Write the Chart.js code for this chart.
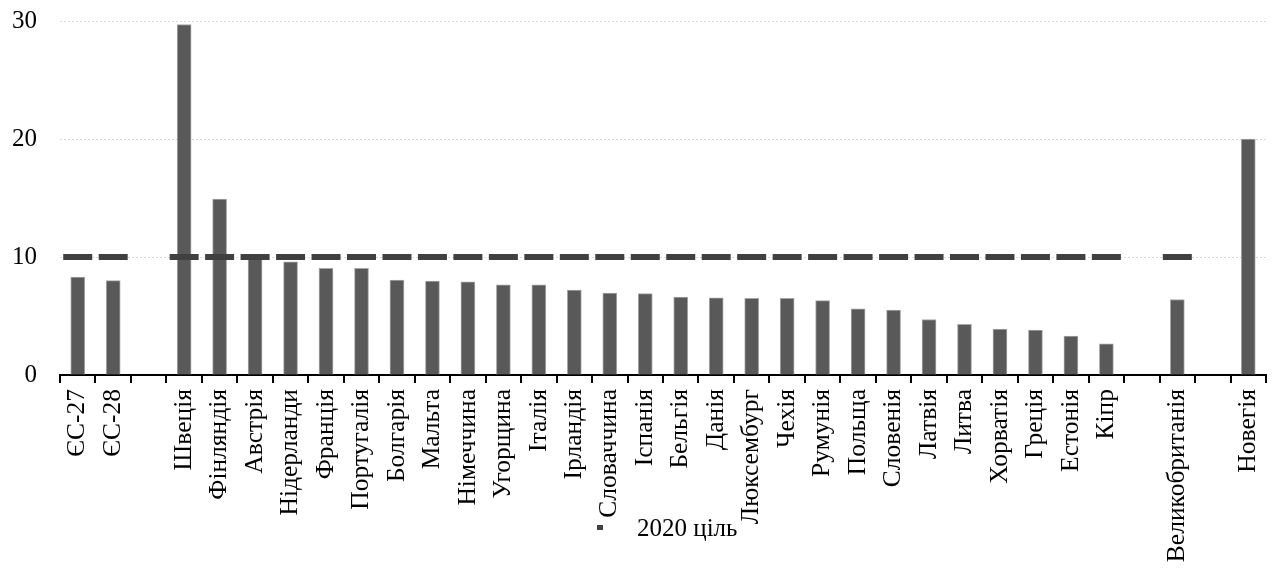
<!DOCTYPE html>
<html>
<head>
<meta charset="utf-8">
<script src="https://cdn.jsdelivr.net/npm/chart.js@4.4.1/dist/chart.umd.min.js"></script>
<style>
  html, body { margin: 0; padding: 0; background: #fff; }
  #wrap { position: relative; width: 1278px; height: 569px; }
  #legend {
    position: absolute; left: 597px; top: 514px;
    font-family: 'Liberation Serif', serif; font-size: 25px; color: #000;
    white-space: nowrap; line-height: 28px;
  }
  #legend .mark {
    display: inline-block; width: 6px; height: 5px; background: #404040;
    vertical-align: middle; margin-right: 34px; position: relative; top: -3px;
  }
</style>
</head>
<body>
<div id="wrap">
  <canvas id="myViz" width="1278" height="569"></canvas>
  <div id="legend"><span class="mark"></span>2020 ціль</div>
</div>
<script>
// Категорії (порожні рядки — проміжки між групами)
const categories = ['ЄС-27', 'ЄС-28', '', 'Швеція', 'Фінляндія', 'Австрія', 'Нідерланди', 'Франція',
  'Португалія', 'Болгарія', 'Мальта', 'Німеччина', 'Угорщина', 'Італія', 'Ірландія', 'Словаччина',
  'Іспанія', 'Бельгія', 'Данія', 'Люксембург', 'Чехія', 'Румунія', 'Польща', 'Словенія', 'Латвія',
  'Литва', 'Хорватія', 'Греція', 'Естонія', 'Кіпр', '', 'Великобританія', '', 'Новегія'];

// Фактичні значення
const values = [8.3, 8.0, null, 29.7, 14.9, 10.0, 9.6, 9.05, 9.05, 8.05, 7.95, 7.9, 7.65, 7.65,
  7.2, 6.95, 6.9, 6.6, 6.55, 6.5, 6.5, 6.3, 5.6, 5.5, 4.7, 4.3, 3.9, 3.8, 3.3, 2.65, null, 6.4, null, 20.0];

// Ціль 2020
const target2020 = [10, 10, null, 10, 10, 10, 10, 10, 10, 10, 10, 10, 10, 10, 10, 10, 10, 10, 10, 10,
  10, 10, 10, 10, 10, 10, 10, 10, 10, 10, null, 10, null, null];

const yTicks = [0, 10, 20, 30];

const FONT = "'Liberation Serif', serif";

const ctx = document.getElementById('myViz').getContext('2d');

new Chart(ctx, {
  type: 'bar',
  data: {
    labels: categories,
    datasets: [
      {
        type: 'line',
        label: '2020 ціль',
        data: target2020,
        showLine: false,
        pointStyle: 'line',
        pointRadius: 14.5,
        pointHoverRadius: 14.5,
        pointBorderWidth: 6,
        pointBorderColor: '#404040',
        pointBackgroundColor: '#404040',
      },
      {
        label: '',
        data: values,
        backgroundColor: '#595959',
        borderColor: '#a6a6a6',
        borderWidth: 1,
        barThickness: 14,
      }
    ]
  },
  options: {
    responsive: false,
    animation: false,
    layout: { autoPadding: false, padding: { top: 21, right: 12, left: 0, bottom: 0 } },
    plugins: {
      legend: { display: false },
      tooltip: { enabled: false }
    },
    scales: {
      x: {
        offset: true,
        grid: {
          offset: true,
          drawOnChartArea: false,
          drawTicks: true,
          tickLength: 8,
          color: '#000',
          lineWidth: 2
        },
        border: { display: true, color: '#000', width: 2 },
        ticks: {
          autoSkip: false,
          maxRotation: 90,
          minRotation: 90,
          padding: 6,
          color: '#000',
          font: { family: FONT, size: 25.5 }
        },
        afterFit: (scale) => {
          scale.height = 194;
          scale.paddingLeft = 0;
          scale.paddingRight = 0;
        }
      },
      y: {
        min: 0,
        max: 30,
        afterBuildTicks: (scale) => { scale.ticks = yTicks.map(v => ({ value: v })); },
        grid: { color: '#d9d9d9', lineWidth: 1, drawTicks: false },
        border: { display: false, dash: [2, 2] },
        ticks: {
          padding: 23,
          color: '#000',
          font: { family: FONT, size: 25 }
        },
        afterFit: (scale) => {
          scale.width = 60;
          scale.paddingTop = 0;
          scale.paddingBottom = 0;
        }
      }
    }
  }
});
</script>
</body>
</html>
